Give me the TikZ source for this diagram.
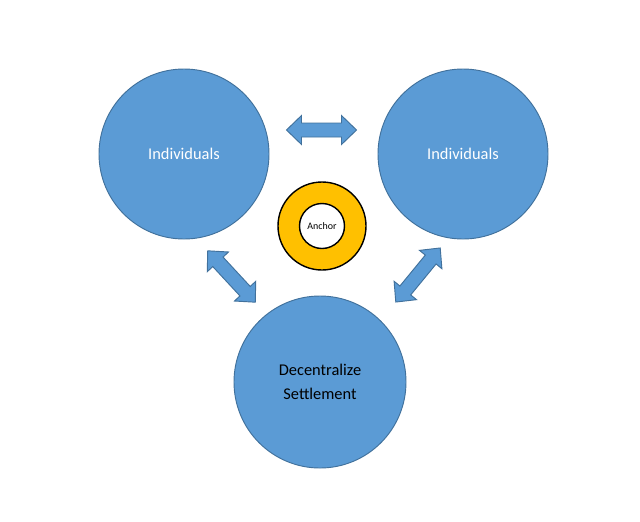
\documentclass[tikz,border=0pt]{standalone}
\usepackage{fontspec}
\setmainfont{Carlito}
\usetikzlibrary{positioning}

\definecolor{blob}{HTML}{5B9BD5}
\definecolor{blobline}{HTML}{41719C}
\definecolor{ringgold}{HTML}{FFC000}

\tikzset{
    party/.style={circle, draw=blobline, fill=blob, line width=0.8pt, minimum size=5.1cm, inner sep=0pt, font=\fontsize{14}{20.4}\selectfont, align=center},
    arrowbody/.style={draw=blobline, fill=blob, line width=0.8pt, line join=miter},
    dblarrow/.pic={
        \path[arrowbody] (-35,0) -- (-20,14.5) -- (-20,7) -- (20,7) -- (20,14.5)
            -- (35,0) -- (20,-14.5) -- (20,-7) -- (-20,-7) -- (-20,-14.5) -- cycle;
    },
}

\begin{document}
\begin{tikzpicture}[x=0.03cm, y=-0.03cm]
\useasboundingbox (0,0) rectangle (640,521);

% the three parties
\node[party, text=white] (left) at (184,154) {Individuals};
\node[party, text=white] (right) at (463,154) {Individuals};
\node[party, text=black, minimum size=5.16cm] (settle) at (320,382) {Decentralize\\Settlement};

% anchor ring
\node[circle, draw=black, fill=ringgold, line width=1.2pt, minimum size=2.64cm, inner sep=0pt] (ring) at (322,226) {};
\node[circle, draw=black, fill=white, line width=1.2pt, minimum size=1.35cm, inner sep=0pt, font=\fontsize{8.5}{10}\selectfont] (anchor) at (ring.center) {Anchor};

% double arrows
\pic at (321.5,130) {dblarrow};
\pic[rotate=-47.2] at (231.5,276.5) {dblarrow};
\pic[rotate=50.6] at (418,275) {dblarrow};
\end{tikzpicture}
\end{document}
